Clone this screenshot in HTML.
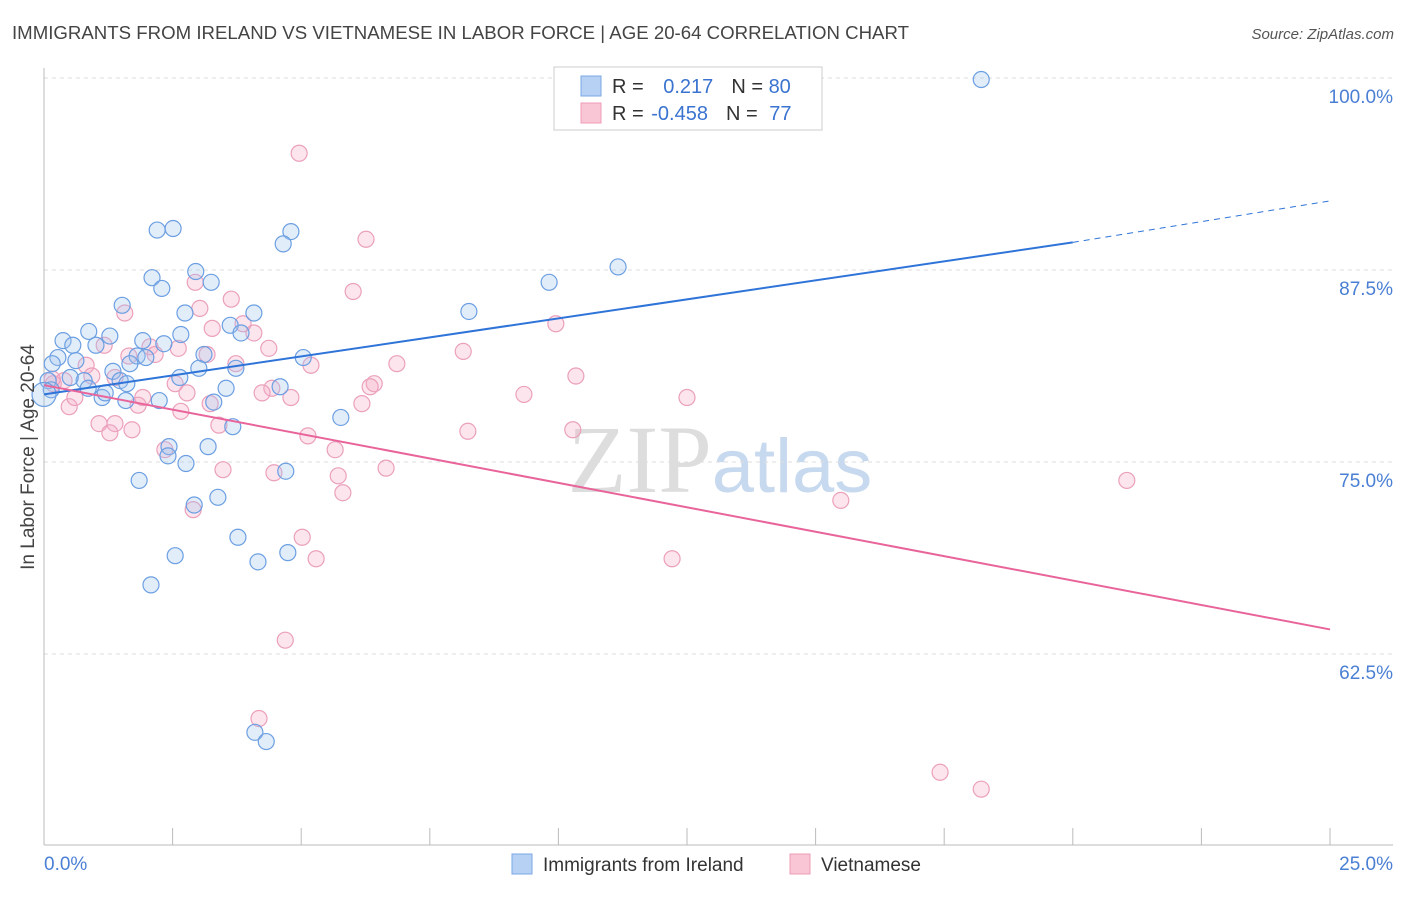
<!DOCTYPE html>
<html><head><meta charset="utf-8"><style>
body{margin:0;background:#fff;font-family:"Liberation Sans",sans-serif;}
svg text{font-family:"Liberation Sans",sans-serif;}
</style></head><body>
<svg id="chart" width="1406" height="892" xmlns="http://www.w3.org/2000/svg">
<text x="12" y="39" font-size="18" fill="#444" textLength="897" lengthAdjust="spacingAndGlyphs">IMMIGRANTS FROM IRELAND VS VIETNAMESE IN LABOR FORCE | AGE 20-64 CORRELATION CHART</text>
<text x="1394" y="39" font-size="15" fill="#555" font-style="italic" text-anchor="end">Source: ZipAtlas.com</text>
<text x="720" y="492" font-size="96" text-anchor="middle"><tspan font-family="Liberation Serif" fill="#ddd">ZIP</tspan><tspan fill="#c7d9ef" font-size="76">atlas</tspan></text>
<g id="grid"></g>
<g id="axes"></g>
<g id="marks"></g>
<text transform="translate(34,457) rotate(-90)" font-size="19" fill="#444" text-anchor="middle">In Labor Force | Age 20-64</text>
<g>
<rect x="554" y="67" width="268" height="63" fill="#fff" stroke="#ccc"/>
<rect x="581" y="76" width="20" height="20" fill="#b7d1f5" stroke="#7aa7e4"/>
<rect x="581" y="103" width="20" height="20" fill="#f9c6d5" stroke="#ee9cb8"/>
<text x="612" y="93" font-size="20" fill="#333">R = <tspan fill="#3a73d0" dx="14">0.217</tspan><tspan dx="18" fill="#333">N = </tspan><tspan fill="#3a73d0">80</tspan></text>
<text x="612" y="120" font-size="20" fill="#333">R = <tspan fill="#3a73d0" dx="2">-0.458</tspan><tspan dx="18" fill="#333">N = </tspan><tspan fill="#3a73d0" dx="6">77</tspan></text>
</g>
<g>
<rect x="512" y="854" width="20" height="20" fill="#b7d1f5" stroke="#7aa7e4"/>
<text x="543" y="871" font-size="19" fill="#333">Immigrants from Ireland</text>
<rect x="790" y="854" width="20" height="20" fill="#f9c6d5" stroke="#ee9cb8"/>
<text x="821" y="871" font-size="19" fill="#333">Vietnamese</text>
</g>
</svg>
<script>
const xTicks=[0,2.5,5,7.5,10,12.5,15,17.5,20,22.5,25];
const yTicks=[100,87.5,75,62.5];
const yTickLabels=["100.0%","87.5%","75.0%","62.5%"];
const xEndLabels=["0.0%","25.0%"];
const irelandX=[18.22,11.16,9.82,8.26,4.80,4.65,2.20,2.51,2.95,2.10,2.29,3.25,2.74,4.08,3.62,3.83,2.66,1.92,2.33,1.52,0.87,1.28,0.37,0.56,1.01,0.27,0.62,1.81,1.98,3.11,5.04,3.01,2.64,3.73,1.67,1.34,1.48,0.78,0.51,0.16,0.08,0.14,0.86,1.13,1.19,1.59,2.24,3.30,3.54,4.59,1.61,5.77,3.67,3.19,2.43,2.41,2.76,4.70,1.85,2.92,3.38,3.77,2.55,4.74,4.16,2.08,4.10,4.32,0.0];
const irelandY=[99.9,87.7,86.7,84.8,90.0,89.2,90.1,90.2,87.4,87.0,86.3,86.7,84.7,84.7,83.9,83.4,83.3,82.9,82.7,85.2,83.5,83.2,82.9,82.6,82.6,81.8,81.6,81.9,81.8,82.0,81.8,81.1,80.5,81.1,81.4,80.9,80.3,80.3,80.5,81.4,80.3,79.7,79.8,79.2,79.5,79.0,79.0,78.9,79.8,79.9,80.1,77.9,77.3,76.0,76.0,75.4,74.9,74.4,73.8,72.2,72.7,70.1,68.9,69.1,68.5,67.0,57.4,56.8,79.4];
const vietX=[4.96,6.26,6.01,2.94,3.64,3.03,1.57,9.95,3.27,4.08,3.87,4.37,2.61,2.06,2.16,3.17,1.65,1.17,8.15,6.86,5.19,3.73,10.34,6.42,6.34,4.43,4.24,4.80,2.55,2.78,1.92,1.83,0.82,0.93,1.38,0.39,0.18,0.16,0.49,0.60,9.33,12.50,6.18,3.23,2.66,1.07,1.38,1.71,1.28,3.40,5.13,8.24,10.28,5.66,2.35,3.48,4.47,6.65,5.72,5.81,21.05,15.49,2.90,5.02,5.29,12.21,4.69,4.18,17.42,18.22];
const vietY=[95.1,89.5,86.1,86.7,85.6,85.0,84.7,84.0,83.7,83.4,84.0,82.4,82.4,82.5,82.0,82.0,81.9,82.6,82.2,81.4,81.3,81.4,80.6,80.1,79.9,79.8,79.5,79.2,80.1,79.5,79.2,78.7,81.3,80.6,80.5,80.3,80.1,80.4,78.6,79.2,79.4,79.2,78.8,78.8,78.3,77.5,77.5,77.1,76.9,77.4,76.7,77.0,77.1,75.8,75.8,74.5,74.3,74.6,74.1,73.0,73.8,72.5,71.9,70.1,68.7,68.7,63.4,58.3,54.8,53.7];
const irelandTrendX=[0,20,25];
const irelandTrendY=[79.4,89.3,92.0];
const vietTrendX=[0,25];
const vietTrendY=[80.0,64.1];

const NS="http://www.w3.org/2000/svg";
const sx=v=>44+v*(1286/25);
const sy=v=>78+(100-v)*15.36;
function mk(tag,attrs,parent){const e=document.createElementNS(NS,tag);for(const k in attrs)e.setAttribute(k,attrs[k]);parent.appendChild(e);return e;}
const grid=document.getElementById('grid'),axes=document.getElementById('axes'),marks=document.getElementById('marks');
yTicks.forEach((t,i)=>{
  const l=mk('line',{x1:44,x2:1393,y1:sy(t),y2:sy(t),stroke:'#ddd','stroke-dasharray':'4,4'},grid);
  
  
  const tx=mk('text',{x:1393,y:sy(t)+25,'font-size':19,fill:'#4a7fd4','text-anchor':'end'},axes);
  tx.textContent=yTickLabels[i];
  
  
});
const xa=mk('line',{x1:44,x2:1393,y1:845,y2:845,stroke:'#bbb'},axes);


const ya=mk('line',{x1:44,x2:44,y1:68,y2:845,stroke:'#bbb'},axes);


xTicks.forEach(t=>{
  const l=mk('line',{x1:sx(t),x2:sx(t),y1:828,y2:845,stroke:'#bbb'},axes);
  
  
});
const xl0=mk('text',{x:44,y:870,'font-size':19,fill:'#4a7fd4'},axes);xl0.textContent=xEndLabels[0];


const xl1=mk('text',{x:1393,y:870,'font-size':19,fill:'#4a7fd4','text-anchor':'end'},axes);xl1.textContent=xEndLabels[1];



vietX.forEach((x,i)=>{
  const c=mk('circle',{cx:sx(x),cy:sy(vietY[i]),r:8,fill:'rgba(244,170,195,0.3)',stroke:'#eba0bb','stroke-width':1.2},marks);
  
  
});
irelandX.forEach((x,i)=>{
  const big=i===irelandX.length-1;
  const c=mk('circle',{cx:sx(x),cy:sy(irelandY[i]),r:big?12:8,fill:'rgba(160,195,240,0.3)',stroke:'#6c9fe2','stroke-width':1.2},marks);
  
  
});
const bt1=mk('line',{x1:sx(irelandTrendX[0]),y1:sy(irelandTrendY[0]),x2:sx(irelandTrendX[1]),y2:sy(irelandTrendY[1]),stroke:'#2f74d8','stroke-width':2},marks);


const bt2=mk('line',{x1:sx(irelandTrendX[1]),y1:sy(irelandTrendY[1]),x2:sx(irelandTrendX[2]),y2:sy(irelandTrendY[2]),stroke:'#2f74d8','stroke-width':1,'stroke-dasharray':'6,5'},marks);


const pt=mk('line',{x1:sx(vietTrendX[0]),y1:sy(vietTrendY[0]),x2:sx(vietTrendX[1]),y2:sy(vietTrendY[1]),stroke:'#e8649a','stroke-width':2},marks);


</script>
</body></html>
